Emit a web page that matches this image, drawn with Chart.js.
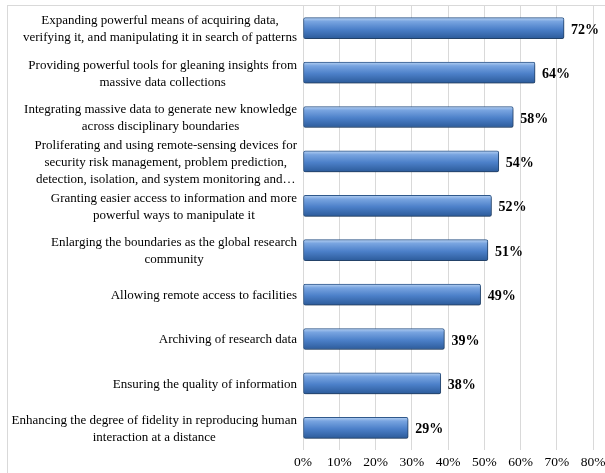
<!DOCTYPE html>
<html>
<head>
<meta charset="utf-8">
<script src="https://cdn.jsdelivr.net/npm/chart.js@4.4.0/dist/chart.umd.min.js"></script>
<style>
  html, body { margin: 0; padding: 0; background: #fff; }
  #wrap { position: relative; width: 605px; height: 473px; }
  #frame { position: absolute; left: 7px; top: 5px; right: -2px; bottom: -2px;
           border-top: 1px solid #d9d9d9; border-left: 1px solid #d9d9d9; pointer-events: none; }
</style>
</head>
<body>
<div id="wrap">
  <canvas id="barChart" width="605" height="473"></canvas>
  <div id="frame"></div>
</div>
<script>
// categories (top to bottom), each split in lines as in the picture
var categories = [
  ["Expanding powerful means of acquiring data,", "verifying it, and manipulating it in search of patterns"],
  ["Providing powerful tools for gleaning insights from", "massive data collections"],
  ["Integrating massive data to generate new knowledge", "across disciplinary boundaries"],
  ["Proliferating and using remote-sensing devices for", "security risk management, problem prediction,", "detection, isolation, and system monitoring and\u2026"],
  ["Granting easier access to information and more", "powerful ways to manipulate it"],
  ["Enlarging the boundaries as the global research", "community"],
  ["Allowing remote access to facilities"],
  ["Archiving of research data"],
  ["Ensuring the quality of information"],
  ["Enhancing the degree of fidelity in reproducing human", "interaction at a distance"]
];
var percents = [72, 64, 58, 54, 52, 51, 49, 39, 38, 29];
var xTicks = [0, 10, 20, 30, 40, 50, 60, 70, 80];

var serif = '"Liberation Serif", "Times New Roman", serif';
var barH = 21;

// vertical gradient for each bar, based on its place on the y scale
var barFill = function(ctx){
  var chart = ctx.chart;
  var ys = chart.scales.y;
  var yc = ys ? ys.getPixelForValue(ctx.dataIndex) : NaN;
  if (!isFinite(yc)) return '#4f81bd';
  var g = chart.ctx.createLinearGradient(0, yc - barH/2, 0, yc + barH/2);
  g.addColorStop(0, '#b5d0f2');
  g.addColorStop(0.18, '#78a4e0');
  g.addColorStop(0.55, '#4c80c9');
  g.addColorStop(1, '#2c5b9a');
  return g;
};

// labels on the left: each block right aligned, lines centred in the block
var catLabels = {
  id: 'catLabels',
  afterDraw: function(chart){
    var c = chart.ctx;
    var ys = chart.scales.y;
    var right = 297;
    var lh = 17;
    c.save();
    c.font = '13px ' + serif;
    c.fillStyle = '#000';
    c.textBaseline = 'middle';
    c.textAlign = 'center';
    for (var i = 0; i < categories.length; i++) {
      var lines = categories[i];
      var w = 0;
      for (var j = 0; j < lines.length; j++) {
        w = Math.max(w, c.measureText(lines[j]).width);
      }
      var cx = right - w/2;
      var yc = ys.getPixelForValue(i) + 1;
      var top = yc - (lines.length - 1) * lh / 2;
      for (var j = 0; j < lines.length; j++) {
        c.fillText(lines[j], cx, top + j*lh);
      }
    }
    c.restore();
  }
};

// soft shadow under the bars, bold value labels after them
var valueLabels = {
  id: 'valueLabels',
  beforeDatasetsDraw: function(chart){
    var c = chart.ctx;
    c.save();
    c.shadowColor = 'rgba(0,0,0,0.3)';
    c.shadowBlur = 3;
    c.shadowOffsetX = 1;
    c.shadowOffsetY = 2;
  },
  afterDatasetsDraw: function(chart){
    var c = chart.ctx;
    c.restore();
    var meta = chart.getDatasetMeta(0);
    c.save();
    c.font = 'bold 14px ' + serif;
    c.fillStyle = '#000';
    c.textBaseline = 'middle';
    c.textAlign = 'left';
    meta.data.forEach(function(bar, i){
      c.fillText(percents[i] + '%', bar.x + 7, bar.y + 2);
    });
    c.restore();
  }
};

const data = {
  labels: categories,
  datasets: [{
    data: percents,
    backgroundColor: barFill,
    borderColor: '#30598c',
    borderWidth: 1,
    borderSkipped: false,
    borderRadius: 2,
    barThickness: barH
  }]
};

const config = {
  type: 'bar',
  data: data,
  options: {
    indexAxis: 'y',
    responsive: false,
    animation: false,
    layout: { padding: { top: 6, right: 0, bottom: 0, left: 0 } },
    plugins: { legend: { display: false }, tooltip: { enabled: false } },
    scales: {
      x: {
        min: 0,
        max: 80,
        afterBuildTicks: function(scale){
          scale.ticks = xTicks.map(function(v){ return { value: v }; });
        },
        afterFit: function(scale){
          scale.height = 23;
          scale.paddingRight = 12;
        },
        grid: { color: '#d9d9d9', lineWidth: 1, drawTicks: false },
        border: { display: false },
        ticks: {
          padding: 4,
          color: '#000',
          font: { family: serif, size: 13.5 },
          maxRotation: 0,
          callback: function(v){ return v + '%'; }
        }
      },
      y: {
        grid: { display: false },
        border: { display: false },
        ticks: { display: false },
        afterFit: function(scale){ scale.width = 303; }
      }
    }
  },
  plugins: [catLabels, valueLabels]
};

const myChart = new Chart(document.getElementById('barChart'), config);
myChart.update();
</script>
</body>
</html>
